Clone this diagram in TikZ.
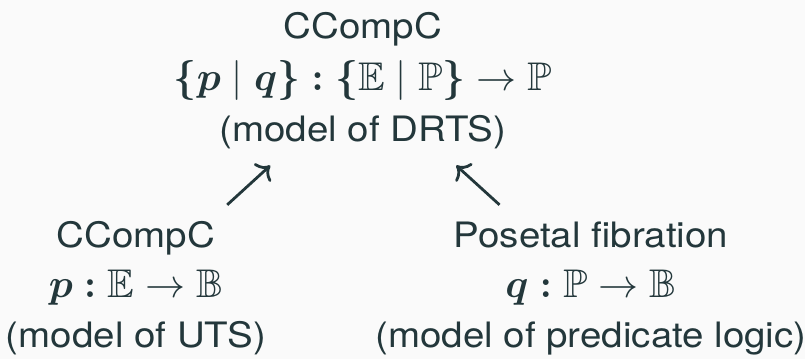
\documentclass[tikz,border=0pt]{standalone}
\usepackage{amsmath,amssymb}
\usepackage{anyfontsize}
\usepackage{fontspec}
\setmainfont{TeX Gyre Heros}[FakeStretch=1.1]
\usetikzlibrary{arrows.meta}
\definecolor{ink}{HTML}{23373B}
\definecolor{paper}{HTML}{FAFAFA}
% math lines are set a little larger than the text
\newcommand{\mline}[1]{{\fontsize{20}{25}\selectfont $#1$}}
\tikzset{
  blk/.style={align=center, inner sep=0pt, text=ink, anchor=north,
    font=\fontsize{17.5}{25.75}\selectfont},
  lowblk/.style={blk, font=\fontsize{17.5}{25}\selectfont},
  arr/.style={draw=ink, line width=1.4pt, -{Computer Modern Rightarrow[scale=1.25]},
    shorten <=12pt, shorten >=12pt}
}
\begin{document}
\begin{tikzpicture}[x=0.5pt,y=-0.5pt]
  \fill[paper] (0,0) rectangle (805,359);
  \useasboundingbox (0,0) rectangle (805,359);
  % composite comprehension category
  \node[blk] (top) at (363,12) {CCompC\\
    \mline{\boldsymbol{\{p} \mid \boldsymbol{q\}} \mathrel{\boldsymbol{:}}
     \boldsymbol{\{}\mathbb{E} \mid \mathbb{P}\boldsymbol{\}} \to \mathbb{P}}\\
    (model of DRTS)};
  % the two ingredients
  \node[lowblk] (lb) at (136,221) {CCompC\\
    \mline{\boldsymbol{p} \mathrel{\boldsymbol{:}} \mathbb{E} \to \mathbb{B}}\\
    (model of UTS)};
  \node[lowblk] (rb) at (591,221) {Posetal fibration\\
    \mline{\boldsymbol{q} \mathrel{\boldsymbol{:}} \mathbb{P} \to \mathbb{B}}\\
    (model of predicate logic)};
  \draw[arr] (lb) -- (top);
  \draw[arr] (rb) -- (top);
\end{tikzpicture}
\end{document}
